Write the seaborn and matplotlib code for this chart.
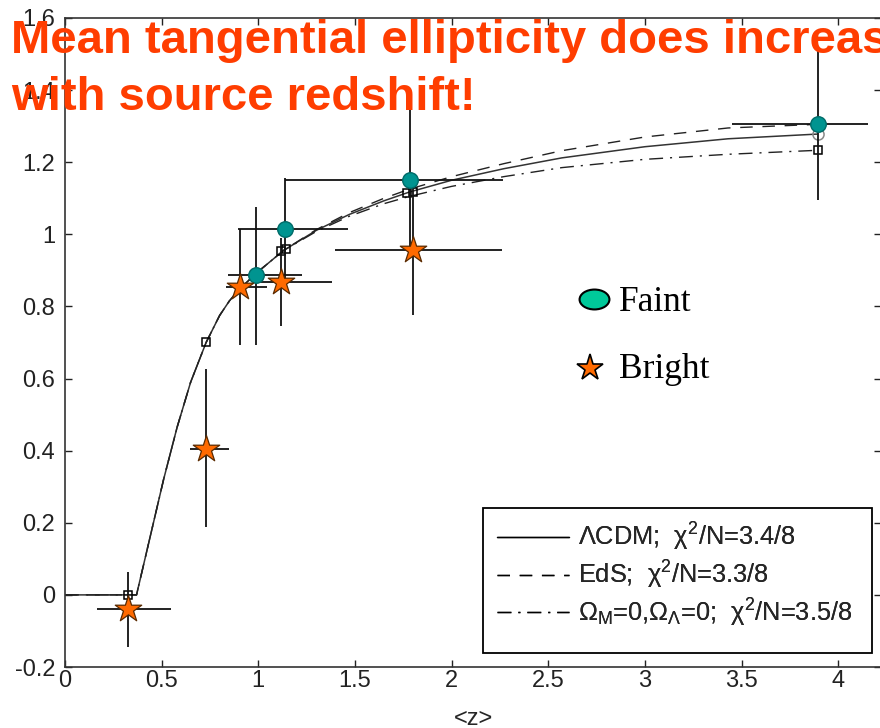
import numpy as np
import pandas as pd
import matplotlib
matplotlib.use("Agg")
import matplotlib.pyplot as plt
import seaborn as sns
from matplotlib.path import Path
from matplotlib.patches import Rectangle
from matplotlib.lines import Line2D
import matplotlib.transforms as mtransforms

# ---------------- data ----------------
curve_z = [0.0, 0.37, 0.44, 0.51, 0.58, 0.65, 0.73, 0.80, 0.85, 0.90, 1.00, 1.13,
           1.30, 1.47, 1.65, 1.78, 2.00, 2.27, 2.57, 3.00, 3.43, 3.89]
lcdm_curve = [0.0, 0.0, 0.16, 0.32, 0.465, 0.59, 0.70, 0.775, 0.815, 0.847, 0.897, 0.955,
              1.011, 1.055, 1.093, 1.117, 1.150, 1.182, 1.212, 1.243, 1.265, 1.278]
eds_curve = [0.0, 0.0, 0.16, 0.32, 0.465, 0.59, 0.70, 0.775, 0.815, 0.847, 0.897, 0.955,
             1.013, 1.060, 1.100, 1.125, 1.160, 1.196, 1.232, 1.270, 1.295, 1.305]
open_curve = [0.0, 0.0, 0.16, 0.32, 0.465, 0.59, 0.70, 0.775, 0.815, 0.847, 0.897, 0.955,
              1.008, 1.050, 1.085, 1.105, 1.133, 1.160, 1.185, 1.208, 1.222, 1.233]

faint_z = [0.99, 1.14, 1.785, 3.895]
faint_e = [0.886, 1.014, 1.150, 1.305]
faint_zerr_lo = [0.147, 0.245, 0.647, 0.446]
faint_zerr_hi = [0.236, 0.324, 0.481, 0.259]
faint_eerr_lo = [0.192, 0.145, 0.194, 0.211]
faint_eerr_hi = [0.190, 0.142, 0.194, 0.212]

bright_z = [0.327, 0.729, 0.905, 1.116, 1.800]
bright_e = [-0.040, 0.406, 0.854, 0.868, 0.956]
bright_zerr_lo = [0.163, 0.082, 0.074, 0.107, 0.403]
bright_zerr_hi = [0.221, 0.120, 0.142, 0.264, 0.459]
bright_eerr_lo = [0.104, 0.219, 0.160, 0.123, 0.180]
bright_eerr_hi = [0.104, 0.221, 0.160, 0.123, 0.180]

model_sq_z = [0.327, 0.729, 1.116, 1.143, 1.770, 1.800, 3.895]
model_sq_e = [0.000, 0.701, 0.954, 0.960, 1.115, 1.118, 1.233]
model_circ_z = [3.895]
model_circ_e = [1.277]

xtick_vals = [0, 0.5, 1, 1.5, 2, 2.5, 3, 3.5, 4]
xtick_labels = ["0", "0.5", "1", "1.5", "2", "2.5", "3", "3.5", "4"]
ytick_vals = [-0.2, 0, 0.2, 0.4, 0.6, 0.8, 1.0, 1.2, 1.4, 1.6]
ytick_labels = ["-0.2", "0", "0.2", "0.4", "0.6", "0.8", "1", "1.2", "1.4", "1.6"]

legend_labels = ["ΛCDM;  χ$^2$/N=3.4/8",
                 "EdS;  χ$^2$/N=3.3/8",
                 "Ω$_\\mathrm{M}$=0,Ω$_\\Lambda$=0;  χ$^2$/N=3.5/8"]
title_lines = ["Mean tangential ellipticity does increase", "with source redshift!"]

# ---------------- style ----------------
sns.set_style("ticks")
plt.rcParams["font.family"] = ["Liberation Sans", "DejaVu Sans"]
plt.rcParams["mathtext.fontset"] = "custom"
plt.rcParams["mathtext.rm"] = "Liberation Sans"
plt.rcParams["mathtext.it"] = "Liberation Sans:italic"
plt.rcParams["mathtext.bf"] = "Liberation Sans:bold"

W, H = 880, 728
fig = plt.figure(figsize=(W / 100, H / 100), dpi=100)
fig.patch.set_facecolor("white")
ax = fig.add_axes([65 / W, 1 - 667 / H, 816 / W, 649 / H])
ax.set_facecolor("white")
ax.set_xlim(0, 816 / 193.3)
ax.set_ylim(-0.2, 1.6)

# model curves
df = pd.DataFrame({"z": curve_z, "lcdm": lcdm_curve, "eds": eds_curve, "open": open_curve})
sns.lineplot(data=df, x="z", y="lcdm", ax=ax, color="#333333", lw=1.1, estimator=None)
sns.lineplot(data=df, x="z", y="eds", ax=ax, color="#222222", lw=1.0, estimator=None)
ax.lines[-1].set_dashes((9, 7))
sns.lineplot(data=df, x="z", y="open", ax=ax, color="#222222", lw=1.0, estimator=None)
ax.lines[-1].set_dashes((10, 5, 1.5, 5))

# model points
ax.plot(model_sq_z, model_sq_e, linestyle="none", marker="s", ms=6, mfc="none",
        mec="black", mew=1.1, zorder=3)
ax.plot(model_circ_z, model_circ_e, linestyle="none", marker="o", ms=8, mfc="none",
        mec="#888888", mew=1.1, zorder=3)

# error bars
ax.errorbar(faint_z, faint_e, xerr=[faint_zerr_lo, faint_zerr_hi],
            yerr=[faint_eerr_lo, faint_eerr_hi], fmt="none", ecolor="#111111",
            elinewidth=1.3, capsize=0, zorder=4)
ax.errorbar(bright_z, bright_e, xerr=[bright_zerr_lo, bright_zerr_hi],
            yerr=[bright_eerr_lo, bright_eerr_hi], fmt="none", ecolor="#111111",
            elinewidth=1.3, capsize=0, zorder=4)

# data markers
sns.scatterplot(x=faint_z, y=faint_e, ax=ax, marker="o", s=125, color="#009490",
                edgecolor="#006b68", linewidth=1.0, zorder=5)
sns.scatterplot(x=bright_z, y=bright_e, ax=ax, marker="*", s=400, color="#FF6A00",
                edgecolor="#5a2a00", linewidth=0.9, zorder=5)

# axes styling
ax.set_xticks(xtick_vals)
ax.set_xticklabels(xtick_labels)
ax.set_yticks(ytick_vals)
ax.set_yticklabels(ytick_labels)
ax.tick_params(direction="in", length=5, width=1.0, top=True, right=True,
               labelsize=17, colors="#222222")
ax.tick_params(axis="x", pad=2.5)
ax.tick_params(axis="y", pad=7)
for s in ax.spines.values():
    s.set_linewidth(1.2)
    s.set_color("#333333")
ax.set_xlabel("<z>", fontsize=17, labelpad=11)
ax.set_ylabel("")

# model legend
handles = [Line2D([], [], color="black", lw=1.0),
           Line2D([], [], color="black", lw=1.0, dashes=(9, 7)),
           Line2D([], [], color="black", lw=1.0, dashes=(10, 5, 1.5, 5))]
leg = ax.legend(handles, legend_labels, loc="upper left",
                bbox_to_anchor=(497 / W, 1 - 521 / H), bbox_transform=fig.transFigure,
                frameon=False, fontsize=18.3, handlelength=2.85, handletextpad=0.33,
                borderpad=0, labelspacing=0.22, borderaxespad=0)
ax.add_artist(leg)
fig.add_artist(Rectangle((483 / W, 1 - 653 / H), 389 / W, 145 / H,
                         transform=fig.transFigure, fill=False, edgecolor="black",
                         lw=1.3, zorder=6))

# Faint / Bright key
ell = Path.unit_circle().transformed(mtransforms.Affine2D().scale(1.5, 1.0))
fig.add_artist(Line2D([594 / W], [1 - 299 / H], transform=fig.transFigure,
                      linestyle="none", marker=ell, ms=21.5, mfc="#00C99A",
                      mec="black", mew=1.5, zorder=7))
fig.add_artist(Line2D([590 / W], [1 - 368 / H], transform=fig.transFigure,
                      linestyle="none", marker="*", ms=20, mfc="#FF6A00",
                      mec="black", mew=1.2, zorder=7))
fig.text(619 / W, 1 - 311 / H, "Faint", family=["Liberation Serif", "DejaVu Serif"],
         fontsize=25.5, va="baseline", ha="left", color="black")
fig.text(619 / W, 1 - 378 / H, "Bright", family=["Liberation Serif", "DejaVu Serif"],
         fontsize=25.5, va="baseline", ha="left", color="black")

# title overlay
fig.text(11 / W, 1 - 53 / H, title_lines[0], fontsize=34, weight="bold",
         color="#FF3D00", va="baseline", ha="left", zorder=10)
fig.text(11 / W, 1 - 110 / H, title_lines[1], fontsize=34, weight="bold",
         color="#FF3D00", va="baseline", ha="left", zorder=10)

fig.savefig("out.png", dpi=100, facecolor="white")
